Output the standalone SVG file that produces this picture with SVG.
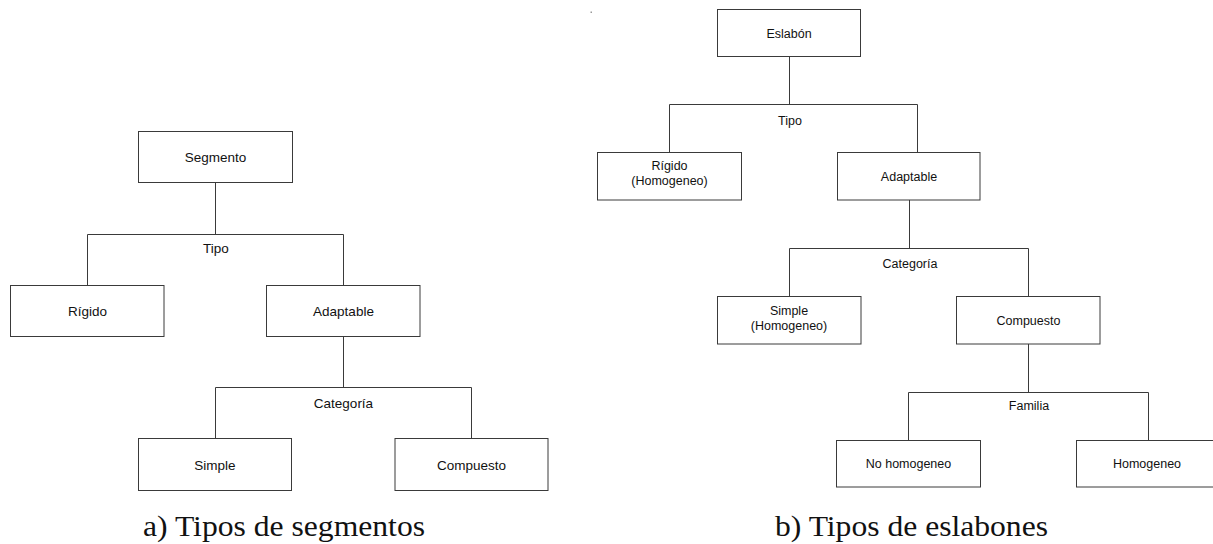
<svg xmlns="http://www.w3.org/2000/svg" width="1213" height="544" viewBox="0 0 1213 544">
<style>
.box{fill:#fff;stroke:#3a3a3a;stroke-width:1}
.ln{fill:none;stroke:#3a3a3a;stroke-width:1}
.tl{font-family:"Liberation Sans",Arial,sans-serif;font-size:13.5px;fill:#111;text-anchor:middle}
.tr{font-family:"Liberation Sans",Arial,sans-serif;font-size:12.5px;fill:#111;text-anchor:middle}
.cap{font-family:"Liberation Serif","Times New Roman",serif;font-size:29px;fill:#111}
</style>
<rect width="1213" height="544" fill="#fff"/>
<rect x="590.5" y="11.5" width="1.5" height="1.5" fill="#999"/>
<g id="connectors">
<path class="ln" d="M215.5 182.5V234.5M87.5 285.5V234.5H343.5V285.5"/>
<path class="ln" d="M343.5 336.5V387.5M215.5 438.5V387.5H471.5V438.5"/>
<path class="ln" d="M789.5 56.5V104.5M669.5 152.5V104.5H917.5V152.5"/>
<path class="ln" d="M909.5 200V248.5M789.5 296.5V248.5H1028.5V296.5"/>
<path class="ln" d="M1028.5 344V392.5M908.5 440.5V392.5H1148.5V440.5"/>
</g>
<g id="edge-labels">
<text class="tl" x="216" y="253">Tipo</text>
<text class="tl" x="343.5" y="408">Categoría</text>
<text class="tr" x="790" y="125">Tipo</text>
<text class="tr" x="910" y="268">Categoría</text>
<text class="tr" x="1029" y="410">Familia</text>
</g>
<g id="segmento"><rect class="box" x="138.5" y="131.5" width="154" height="51"/><text class="tl" x="215.5" y="162">Segmento</text></g>
<g id="rigido-a"><rect class="box" x="10.5" y="285.5" width="153.5" height="51"/><text class="tl" x="87.5" y="316">Rígido</text></g>
<g id="adaptable-a"><rect class="box" x="266.5" y="285.5" width="153.5" height="51"/><text class="tl" x="343.5" y="316">Adaptable</text></g>
<g id="simple-a"><rect class="box" x="138.5" y="438.5" width="153" height="52"/><text class="tl" x="215" y="469.5">Simple</text></g>
<g id="compuesto-a"><rect class="box" x="395" y="438.5" width="153" height="52"/><text class="tl" x="471.5" y="469.5">Compuesto</text></g>
<g id="eslabon"><rect class="box" x="717.5" y="9.5" width="143" height="47"/><text class="tr" x="789" y="38">Eslabón</text></g>
<g id="rigido-b"><rect class="box" x="597.5" y="152.5" width="144" height="47.5"/><text class="tr" x="669.5" y="170">Rígido</text><text class="tr" x="669.5" y="184.5">(Homogeneo)</text></g>
<g id="adaptable-b"><rect class="box" x="837.5" y="152.5" width="142.5" height="47.5"/><text class="tr" x="909" y="180.5">Adaptable</text></g>
<g id="simple-b"><rect class="box" x="717.5" y="296.5" width="143.5" height="47.5"/><text class="tr" x="789" y="315">Simple</text><text class="tr" x="789" y="330">(Homogeneo)</text></g>
<g id="compuesto-b"><rect class="box" x="956.5" y="296.5" width="143.5" height="47.5"/><text class="tr" x="1028.5" y="324.5">Compuesto</text></g>
<g id="no-homogeneo"><rect class="box" x="836.5" y="440.5" width="144" height="46.5"/><text class="tr" x="908.5" y="468">No homogeneo</text></g>
<g id="homogeneo"><rect class="box" x="1076.5" y="440.5" width="145" height="46.5"/><text class="tr" x="1147" y="468">Homogeneo</text></g>
<g id="captions">
<text class="cap" x="143" y="536" textLength="282" lengthAdjust="spacingAndGlyphs">a) Tipos de segmentos</text>
<text class="cap" x="775" y="536" textLength="273" lengthAdjust="spacingAndGlyphs">b) Tipos de eslabones</text>
</g>
</svg>
